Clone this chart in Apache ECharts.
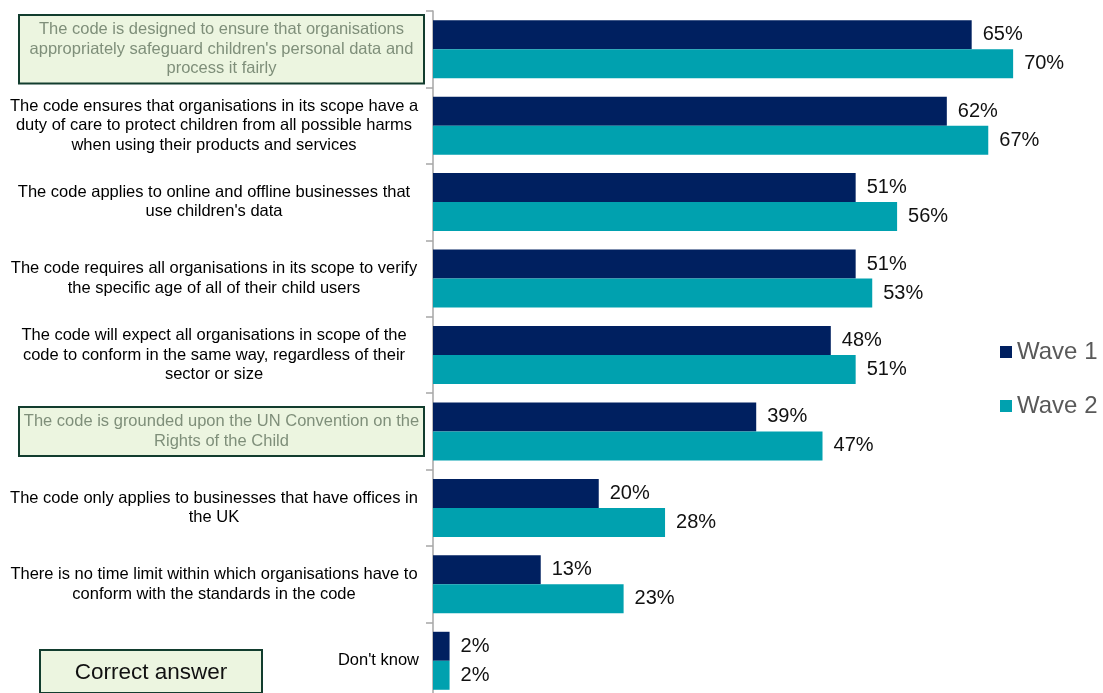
<!DOCTYPE html>
<html>
<head>
<meta charset="utf-8">
<script src="https://cdn.jsdelivr.net/npm/echarts@6/dist/echarts.min.js"></script>
<style>
  html, body { margin: 0; padding: 0; background: #fff; overflow: hidden; }
  #chart { width: 1103px; height: 700px; }
</style>
</head>
<body>
<div id="chart"></div>
<script>
// Statements about the code, top to bottom
const categories = [
  "The code is designed to ensure that organisations\nappropriately safeguard children's personal data and\nprocess it fairly",
  "The code ensures that organisations in its scope have a\nduty of care to protect children from all possible harms\nwhen using their products and services",
  "The code applies to online and offline businesses that\nuse children's data",
  "The code requires all organisations in its scope to verify\nthe specific age of all of their child users",
  "The code will expect all organisations in scope of the\ncode to conform in the same way, regardless of their\nsector or size",
  "The code is grounded upon the UN Convention on the\nRights of the Child",
  "The code only applies to businesses that have offices in\nthe UK",
  "There is no time limit within which organisations have to\nconform with the standards in the code",
  "Don't know"
];
// Statements that are correct answers (indices into categories)
const correctAnswers = [0, 5];

const seriesNames = ["Wave 1", "Wave 2"];
const wave1 = [65, 62, 51, 51, 48, 39, 20, 13, 2];
const wave2 = [70, 67, 56, 53, 51, 47, 28, 23, 2];

const chart = echarts.init(document.getElementById('chart'), null, { renderer: 'canvas' });

const font = "'Liberation Sans', Arial, sans-serif";
const navy = '#002060';
const teal = '#00A1AF';

const yData = categories.map((c, i) => correctAnswers.includes(i)
  ? { value: c, textStyle: { backgroundColor: '#ECF5E0', borderColor: '#123D2E', borderWidth: 2, padding: [4, 2, 4, 2] } }
  : c);

const labelOpt = {
  show: true,
  position: 'right',
  distance: 11,
  formatter: p => p.value + '%',
  color: '#111',
  fontSize: 20,
  fontFamily: font
};

chart.setOption({
  animation: false,
  textStyle: { fontFamily: font },
  grid: { left: 433, top: 11, width: 663, height: 688, containLabel: false },
  legend: {
    orient: 'vertical',
    left: 995,
    top: 335,
    itemWidth: 12,
    itemHeight: 12,
    itemGap: 30,
    icon: 'rect',
    textStyle: { fontSize: 24, color: '#595959', fontFamily: font },
    data: seriesNames
  },
  xAxis: {
    type: 'value',
    min: 0,
    max: 80,
    show: false
  },
  yAxis: {
    type: 'category',
    inverse: true,
    data: yData,
    axisLine: { show: true, lineStyle: { color: '#A6A6A6', width: 1.5 } },
    axisTick: { show: true, length: 7, lineStyle: { color: '#A6A6A6', width: 1.5 } },
    axisLabel: {
      interval: 0,
      margin: 10,
      align: 'right',
      formatter: (v, i) => {
        if (correctAnswers.includes(i)) return '{c|' + v + '}';
        if (v.indexOf('\n') < 0) return '{s|' + v + '}';
        return '{t|' + v + '}';
      },
      rich: {
        t: { width: 410, padding: [0, 4, 0, 0], align: 'center', fontSize: 16.5, lineHeight: 19.5, color: '#000', fontFamily: font },
        s: { padding: [0, 4, 0, 0], fontSize: 16.5, lineHeight: 19.5, color: '#000', fontFamily: font },
        c: { width: 399, align: 'center', fontSize: 16.5, lineHeight: 19.5, color: '#7F8F7A', fontFamily: font }
      }
    }
  },
  series: [
    {
      name: seriesNames[0], type: 'bar', data: wave1,
      barWidth: 29, barGap: '0%',
      itemStyle: { color: navy },
      label: labelOpt
    },
    {
      name: seriesNames[1], type: 'bar', data: wave2,
      barWidth: 29, barGap: '0%',
      itemStyle: { color: teal },
      label: labelOpt
    }
  ],
  graphic: [
    {
      type: 'group',
      left: 39,
      top: 649,
      children: [
        { type: 'rect', shape: { x: 0, y: 0, width: 222, height: 43 },
          style: { fill: '#ECF5E0', stroke: '#123D2E', lineWidth: 2 } },
        { type: 'text', style: { x: 111, y: 23, text: 'Correct answer', align: 'center', verticalAlign: 'middle',
          font: "22.5px 'Liberation Sans', Arial, sans-serif", fill: '#111' } }
      ]
    }
  ]
});
</script>
</body>
</html>
